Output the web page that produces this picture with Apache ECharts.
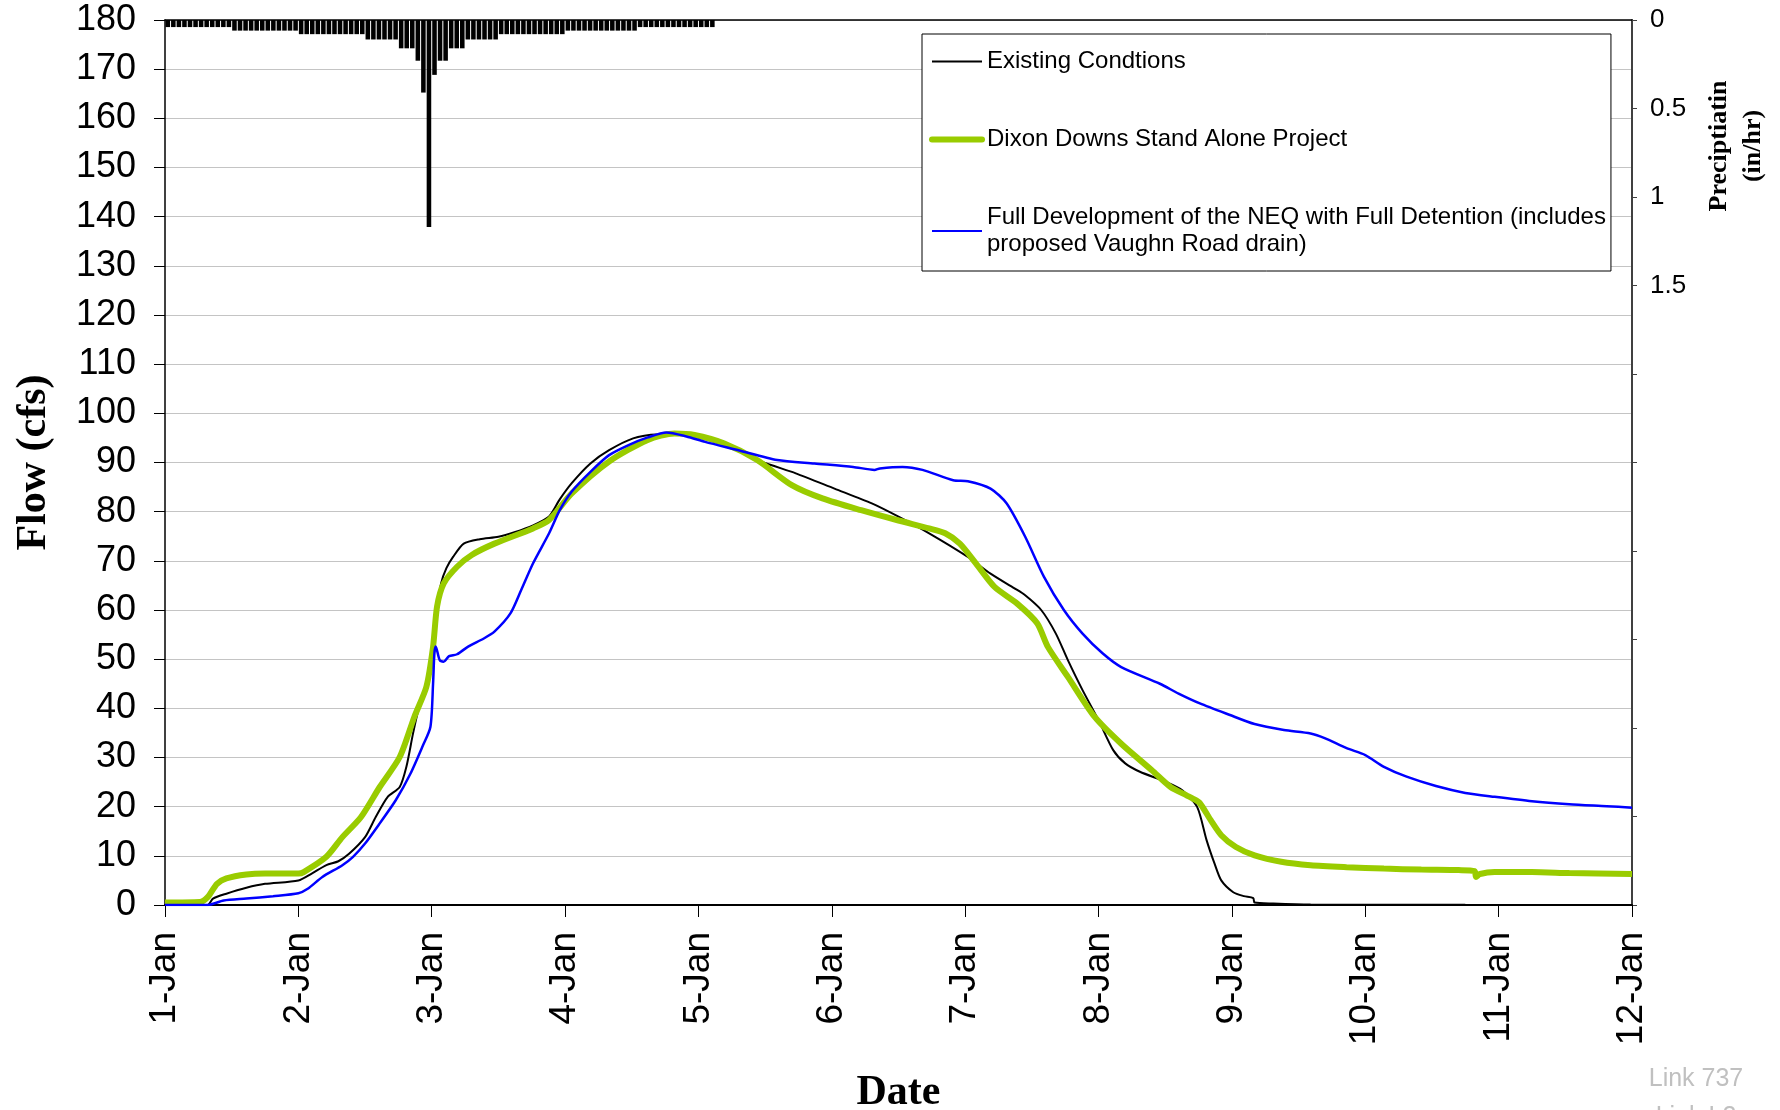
<!DOCTYPE html>
<html>
<head>
<meta charset="utf-8">
<title>Link 737 hydrograph</title>
<script src="https://cdn.jsdelivr.net/npm/echarts@6/dist/echarts.min.js"></script>
<style>
  html, body { margin: 0; padding: 0; background: #fff; }
  #chart { width: 1780px; height: 1110px; }
</style>
</head>
<body>
<div id="chart"></div>
<script>
// Day labels along the time axis (value axis counts days from 1-Jan 00:00)
const dayLabels = ['1-Jan', '2-Jan', '3-Jan', '4-Jan', '5-Jan', '6-Jan',
                   '7-Jan', '8-Jan', '9-Jan', '10-Jan', '11-Jan', '12-Jan'];

// Hourly rainfall intensity (in/hr), starting 1-Jan 00:00
const rainfall = [
  0.04, 0.04, 0.04, 0.04, 0.04, 0.04, 0.04, 0.04, 0.04, 0.04, 0.04, 0.04,
  0.06, 0.06, 0.06, 0.06, 0.06, 0.06, 0.06, 0.06, 0.06, 0.06, 0.06, 0.06,
  0.08, 0.08, 0.08, 0.08, 0.08, 0.08, 0.08, 0.08, 0.08, 0.08, 0.08, 0.08,
  0.11, 0.11, 0.11, 0.11, 0.11, 0.11,
  0.16, 0.16, 0.16,
  0.23,
  0.41,
  1.17,
  0.31,
  0.23, 0.23,
  0.16, 0.16, 0.16,
  0.11, 0.11, 0.11, 0.11, 0.11, 0.11,
  0.08, 0.08, 0.08, 0.08, 0.08, 0.08, 0.08, 0.08, 0.08, 0.08, 0.08, 0.08,
  0.06, 0.06, 0.06, 0.06, 0.06, 0.06, 0.06, 0.06, 0.06, 0.06, 0.06, 0.06, 0.06,
  0.04, 0.04, 0.04, 0.04, 0.04, 0.04, 0.04, 0.04, 0.04, 0.04, 0.04, 0.04, 0.04, 0.04
];

// Flow hydrographs: [days since 1-Jan, flow in cfs]
const existingFlow = [
  [0, 0], [0.32, 0], [0.36, 1.3], [0.46, 2.3], [0.61, 3.5], [0.75, 4.3], [1.0, 5.0],
  [1.10, 6.4], [1.21, 8.1], [1.30, 8.9], [1.38, 10.4], [1.50, 13.8], [1.58, 17.9],
  [1.67, 22.0], [1.76, 24.0], [1.81, 28.1], [1.86, 34.9], [1.90, 39.6], [1.96, 43.7],
  [2.01, 51.2], [2.04, 60.0], [2.07, 65.4], [2.11, 68.5], [2.16, 70.8], [2.24, 73.5],
  [2.36, 74.4], [2.50, 74.9], [2.62, 75.8], [2.76, 77.2], [2.88, 79.0], [2.96, 82.5],
  [3.05, 85.8], [3.19, 89.8], [3.33, 92.5], [3.51, 94.9], [3.68, 95.7], [3.91, 95.6],
  [4.01, 95.2], [4.30, 92.5], [4.47, 90.2], [4.73, 87.8], [5.02, 84.7], [5.30, 81.7],
  [5.50, 79.0], [5.73, 75.6], [6.02, 70.8], [6.19, 67.4], [6.37, 64.4], [6.45, 63.0],
  [6.57, 60.0], [6.68, 55.2], [6.77, 49.8], [6.88, 43.7], [7.00, 37.6], [7.11, 31.5],
  [7.20, 28.8], [7.31, 27.1], [7.51, 25.0], [7.63, 23.3], [7.74, 19.9], [7.81, 13.2],
  [7.87, 8.4], [7.92, 5.0], [8.01, 2.6], [8.09, 1.8], [8.16, 1.4], [8.17, 0.5],
  [8.31, 0.3], [8.59, 0.1], [9.75, 0.05]
];

const dixonFlow = [
  [0, 0.5], [0.26, 0.6], [0.32, 1.6], [0.39, 4.3], [0.46, 5.4], [0.61, 6.2], [0.75, 6.4],
  [1.0, 6.4], [1.04, 6.7], [1.21, 9.8], [1.33, 13.8], [1.47, 17.9], [1.61, 24.0],
  [1.76, 30.1], [1.87, 38.3], [1.96, 44.4], [2.01, 52.5], [2.04, 60.7], [2.09, 65.4],
  [2.19, 68.8], [2.30, 71.2], [2.47, 73.5], [2.76, 76.6], [2.88, 78.3], [3.05, 83.7],
  [3.33, 90.2], [3.62, 94.6], [3.82, 95.9], [3.97, 95.6], [4.19, 93.9], [4.44, 90.5],
  [4.70, 85.4], [4.93, 82.7], [5.22, 80.3], [5.50, 78.2], [5.73, 76.6], [5.85, 75.6],
  [5.96, 73.5], [6.08, 69.5], [6.22, 64.7], [6.39, 61.3], [6.54, 57.3], [6.62, 52.5],
  [6.77, 46.4], [6.97, 38.3], [7.17, 32.8], [7.40, 27.4], [7.54, 24.0], [7.66, 22.3],
  [7.71, 21.6], [7.76, 20.7], [7.84, 17.3], [7.92, 14.2], [8.03, 11.8], [8.17, 10.1],
  [8.37, 8.8], [8.59, 8.1], [8.86, 7.7], [9.14, 7.4], [9.42, 7.2], [9.70, 7.1],
  [9.82, 6.9], [9.83, 5.7], [9.86, 6.3], [9.97, 6.7], [10.25, 6.7], [10.53, 6.5], [11.0, 6.3]
];

const fullDevFlow = [
  [0, 0], [0.32, 0], [0.44, 0.9], [0.61, 1.3], [0.81, 1.8], [1.0, 2.4], [1.07, 3.3],
  [1.18, 5.7], [1.33, 8.1], [1.41, 9.8], [1.50, 12.5], [1.61, 16.6], [1.73, 21.3],
  [1.84, 26.7], [1.93, 32.2], [1.99, 36.2], [2.01, 45.0], [2.02, 51.2], [2.03, 52.6],
  [2.06, 49.8], [2.09, 49.5], [2.13, 50.6], [2.19, 51.0], [2.27, 52.5], [2.39, 54.2],
  [2.47, 55.6], [2.59, 59.3], [2.67, 64.0], [2.76, 69.5], [2.88, 75.6], [2.96, 80.3],
  [3.05, 84.1], [3.19, 88.1], [3.33, 91.5], [3.48, 93.6], [3.62, 95.1], [3.76, 96.1],
  [3.91, 95.3], [4.05, 94.2], [4.30, 92.5], [4.59, 90.5], [4.87, 89.8], [5.16, 89.1],
  [5.32, 88.5], [5.36, 88.8], [5.53, 89.1], [5.68, 88.5], [5.91, 86.4], [6.02, 86.2],
  [6.19, 84.7], [6.31, 81.7], [6.45, 74.9], [6.59, 66.8], [6.74, 60.0], [6.88, 55.2],
  [7.03, 51.2], [7.17, 48.4], [7.46, 45.0], [7.60, 43.0], [7.76, 41.0], [7.98, 38.7],
  [8.17, 36.8], [8.39, 35.6], [8.59, 34.9], [8.70, 33.9], [8.86, 31.9], [9.0, 30.5],
  [9.14, 28.1], [9.31, 26.1], [9.53, 24.2], [9.75, 22.8], [9.97, 22.0], [10.25, 21.1],
  [10.53, 20.5], [10.81, 20.1], [11.0, 19.8]
];

// Series names as shown in the legend
const nameExisting = 'Existing Condtions';
const nameDixon = 'Dixon Downs Stand Alone Project';
const nameFullDev = 'Full Development of the NEQ with Full Detention (includes\nproposed Vaughn Road drain)';

// Hour slots for the rainfall bars along the top edge (11 days x 24 h)
const hourSlots = [];
for (let h = 0; h < (dayLabels.length - 1) * 24; h++) hourSlots.push(String(h));

const SANS = '"Liberation Sans", Arial, sans-serif';
const SERIF = '"Liberation Serif", "Times New Roman", serif';

const chart = echarts.init(document.getElementById('chart'), null, { renderer: 'canvas' });

chart.setOption({
  animation: false,
  backgroundColor: '#fff',
  textStyle: { fontFamily: SANS, color: '#000' },
  grid: { left: 165, right: 148, top: 20, bottom: 205, containLabel: false, outerBoundsMode: 'none' },
  legend: {
    orient: 'vertical',
    left: 922,
    top: 34,
    padding: [14, 5, 13, 7],
    itemGap: 51,
    itemWidth: 50,
    itemHeight: 20,
    backgroundColor: '#fff',
    borderColor: '#000',
    borderWidth: 1,
    borderRadius: 0,
    itemStyle: { opacity: 0 },
    textStyle: { fontFamily: SANS, fontSize: 24, lineHeight: 27, color: '#000' },
    data: [
      { name: nameExisting, lineStyle: { width: 2 } },
      { name: nameDixon, lineStyle: { width: 6, cap: 'round' } },
      { name: nameFullDev, lineStyle: { width: 2 } }
    ]
  },
  xAxis: [
    {
      type: 'value',
      min: 0,
      max: 11,
      interval: 1,
      position: 'bottom',
      axisLine: { show: true, onZero: false, lineStyle: { color: '#000', width: 2 } },
      axisTick: { show: true, inside: false, length: 12, lineStyle: { color: '#000', width: 1 } },
      axisLabel: {
        rotate: 90,
        margin: 27,
        fontSize: 37,
        color: '#000',
        fontFamily: SANS,
        formatter: (v) => dayLabels[Math.round(v)]
      },
      splitLine: { show: false },
      name: 'Date',
      nameLocation: 'middle',
      nameGap: 167,
      nameTextStyle: { fontFamily: SERIF, fontWeight: 'bold', fontSize: 42, color: '#000' }
    },
    {
      type: 'category',
      position: 'top',
      data: hourSlots,
      boundaryGap: true,
      axisLine: { show: true, onZero: false, lineStyle: { color: '#000', width: 1.5 } },
      axisTick: { show: false },
      axisLabel: { show: false },
      splitLine: { show: false }
    }
  ],
  yAxis: [
    {
      type: 'value',
      min: 0,
      max: 180,
      interval: 10,
      position: 'left',
      axisLine: { show: true, onZero: false, lineStyle: { color: '#000', width: 1.5 } },
      axisTick: { show: true, inside: false, length: 11, lineStyle: { color: '#000', width: 1 } },
      axisLabel: { margin: 29, fontSize: 36, color: '#000', fontFamily: SANS },
      splitLine: { show: true, lineStyle: { color: '#c4c4c4', width: 1.2 } },
      name: 'Flow (cfs)',
      nameLocation: 'middle',
      nameGap: 110,
      nameTextStyle: { fontFamily: SERIF, fontWeight: 'bold', fontSize: 42, color: '#000' }
    },
    {
      type: 'value',
      min: 0,
      max: 5,
      interval: 0.5,
      inverse: true,
      position: 'right',
      axisLine: { show: true, onZero: false, lineStyle: { color: '#404040', width: 2 } },
      axisTick: { show: true, inside: false, length: 5, lineStyle: { color: '#404040', width: 1 } },
      axisLabel: {
        margin: 18,
        fontSize: 26,
        color: '#000',
        fontFamily: SANS,
        formatter: (v) => (v <= 1.5 ? String(v) : '')
      },
      splitLine: { show: false }
    }
  ],
  graphic: [
    {
      type: 'text',
      x: 1736,
      y: 146,
      rotation: Math.PI / 2,
      style: {
        text: 'Preciptiatin\n(in/hr)',
        fontFamily: SERIF,
        fontWeight: 'bold',
        fontSize: 26,
        lineHeight: 34,
        textAlign: 'center',
        textVerticalAlign: 'middle',
        fill: '#000'
      }
    },
    {
      type: 'text',
      x: 1696,
      y: 1079,
      style: {
        text: 'Link 737',
        fontFamily: SANS,
        fontSize: 25,
        textAlign: 'center',
        textVerticalAlign: 'middle',
        fill: '#c0c0c0'
      }
    },
    {
      type: 'text',
      x: 1696,
      y: 1117,
      style: {
        text: 'Link L2',
        fontFamily: SANS,
        fontSize: 25,
        textAlign: 'center',
        textVerticalAlign: 'middle',
        fill: '#c0c0c0'
      }
    }
  ],
  series: [
    {
      name: 'Rainfall',
      type: 'bar',
      xAxisIndex: 1,
      yAxisIndex: 1,
      data: rainfall,
      barCategoryGap: '18%',
      itemStyle: { color: '#000' },
      silent: true
    },
    {
      name: nameExisting,
      type: 'line',
      xAxisIndex: 0,
      yAxisIndex: 0,
      data: existingFlow,
      symbol: 'none',
      smooth: 0.25,
      lineStyle: { color: '#000', width: 2 },
      itemStyle: { color: '#000' }
    },
    {
      name: nameDixon,
      type: 'line',
      xAxisIndex: 0,
      yAxisIndex: 0,
      data: dixonFlow,
      symbol: 'none',
      smooth: 0.25,
      lineStyle: { color: '#99cc00', width: 6 },
      itemStyle: { color: '#99cc00' }
    },
    {
      name: nameFullDev,
      type: 'line',
      xAxisIndex: 0,
      yAxisIndex: 0,
      data: fullDevFlow,
      symbol: 'none',
      smooth: 0.25,
      lineStyle: { color: '#0000ff', width: 2.5 },
      itemStyle: { color: '#0000ff' }
    }
  ]
});
</script>
</body>
</html>
